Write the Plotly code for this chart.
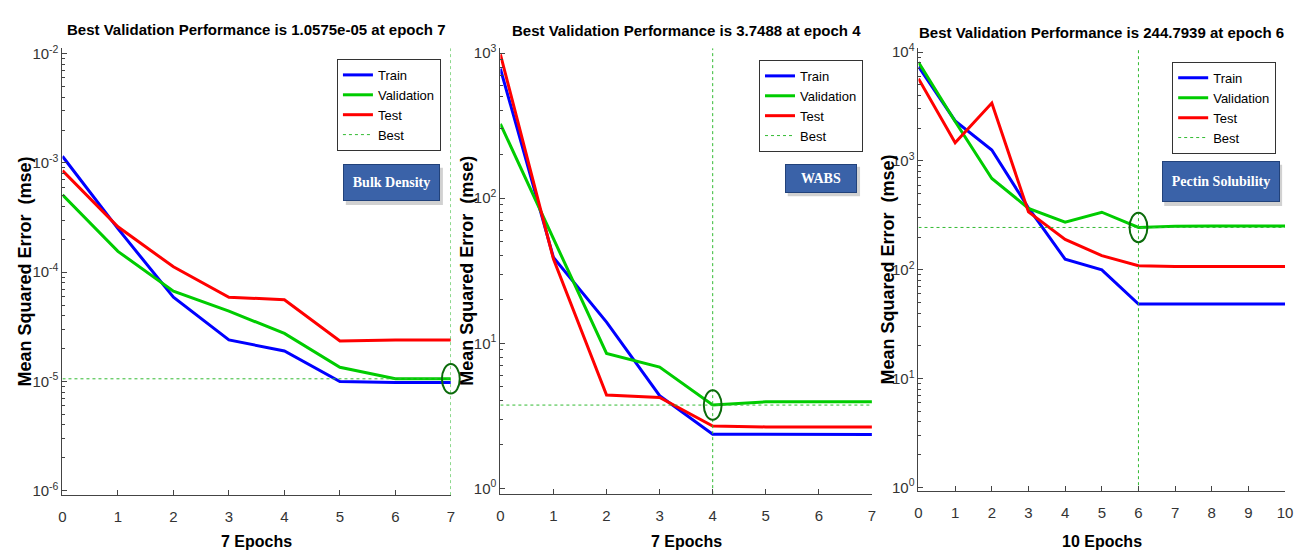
import math
import plotly.graph_objects as go

# ---------------- data ----------------
epochs1 = [0, 1, 2, 3, 4, 5, 6, 7]
train1 = [1.15e-3, 2.5e-4, 5.9e-5, 2.4e-5, 1.9e-5, 1.0e-5, 9.8e-6, 9.8e-6]
val1 = [5.1e-4, 1.55e-4, 6.7e-5, 4.4e-5, 2.75e-5, 1.35e-5, 1.06e-5, 1.0575e-5]
test1 = [8.5e-4, 2.6e-4, 1.12e-4, 5.9e-5, 5.6e-5, 2.35e-5, 2.4e-5, 2.4e-5]
best_epoch1, best_val1 = 7, 1.0575e-5

epochs2 = [0, 1, 2, 3, 4, 5, 6, 7]
train2 = [780, 39, 14, 4.35, 2.36, 2.35, 2.35, 2.35]
val2 = [325, 53, 8.5, 6.85, 3.7488, 3.95, 3.95, 3.95]
test2 = [980, 38, 4.4, 4.23, 2.69, 2.65, 2.65, 2.65]
best_epoch2, best_val2 = 4, 3.7488

epochs3 = [0, 1, 2, 3, 4, 5, 6, 7, 8, 9, 10]
train3 = [7360, 2330, 1260, 370, 125, 100, 48.5, 48.5, 48.5, 48.5, 48.5]
val3 = [8070, 2300, 690, 367, 274, 338, 244.7939, 251, 252, 252, 252]
test3 = [5700, 1470, 3400, 340, 190, 135, 109, 107, 107, 107, 107]
best_epoch3, best_val3 = 6, 244.7939

titles = ["Best Validation Performance is 1.0575e-05 at epoch 7",
          "Best Validation Performance is 3.7488 at epoch 4",
          "Best Validation Performance is 244.7939 at epoch 6"]
xlabels = ["7 Epochs", "7 Epochs", "10 Epochs"]
box_labels = ["Bulk Density", "WABS", "Pectin Solubility"]
ylabel = "Mean Squared Error  (mse)"
series_names = ["Train", "Validation", "Test", "Best"]

# ---------------- style ----------------
W, H = 1303, 554
SANS = "Liberation Sans, Arial, sans-serif"
SERIF = "Liberation Serif, Times New Roman, serif"
C_TRAIN, C_VAL, C_TEST, C_BEST = "#0000FF", "#00CC00", "#FF0000", "#33BB33"

panels = [
    dict(ep=epochs1, tr=train1, va=val1, te=test1, be=best_epoch1, bv=best_val1,
         xdom=(59, 451), ydom=(42, 498), yr=(-6.04, -1.95), dec=(-6, -2), xmax=7,
         ylab_x=21, legend=(441, 53), box=(343, 161, 440, 198), title_y=23),
    dict(ep=epochs2, tr=train2, va=val2, te=test2, be=best_epoch2, bv=best_val2,
         xdom=(501, 876), ydom=(42, 497), yr=(-0.04, 3.034), dec=(0, 3), xmax=7,
         ylab_x=467, legend=(867, 54), box=(789, 160, 861, 189), title_y=24),
    dict(ep=epochs3, tr=train3, va=val3, te=test3, be=best_epoch3, bv=best_val3,
         xdom=(923, 1293), ydom=(42, 494), yr=(-0.034, 4.036), dec=(0, 4), xmax=10,
         ylab_x=892, legend=(1284, 56), box=(1169, 158, 1287, 199), title_y=26),
]


def px2x(p):
    return p / W


def px2y(p):
    return 1 - p / H


def sup_label(e):
    return "10<sup>%d</sup>" % e


fig = go.Figure()
annotations = []
shapes = []
layout = {}

for i, p in enumerate(panels):
    n = "" if i == 0 else str(i + 1)
    xa, ya = "x" + n, "y" + n
    lg = "legend" + n
    ymin, ymax = 10 ** p["yr"][0], 10 ** p["yr"][1]
    xd = (px2x(p["xdom"][0]), px2x(p["xdom"][1]))
    yd = (px2y(p["ydom"][1]), px2y(p["ydom"][0]))

    for name, vals, col in [(series_names[0], p["tr"], C_TRAIN),
                            (series_names[1], p["va"], C_VAL),
                            (series_names[2], p["te"], C_TEST)]:
        fig.add_trace(go.Scatter(x=p["ep"], y=vals, mode="lines", name=name,
                                 line=dict(color=col, width=3),
                                 xaxis=xa, yaxis=ya, legend=lg))
    fig.add_trace(go.Scatter(
        x=[p["ep"][0], p["xmax"], None, p["be"], p["be"]],
        y=[p["bv"], p["bv"], None, ymin, ymax],
        mode="lines", name=series_names[3],
        line=dict(color=C_BEST, width=1, dash="dot"),
        xaxis=xa, yaxis=ya, legend=lg))

    # best-point ellipse, placed from the best (epoch, value) pair via the axis mapping
    cx = xd[0] + (p["be"] - 0) / (p["xmax"] - 0) * (xd[1] - xd[0])
    cy = yd[0] + (math.log10(p["bv"]) - p["yr"][0]) / (p["yr"][1] - p["yr"][0]) * (yd[1] - yd[0])
    shapes.append(dict(type="circle", xref="paper", yref="paper",
                       x0=cx - 9 / W, x1=cx + 9 / W, y0=cy - 15 / H, y1=cy + 15 / H,
                       line=dict(color="#0B6B0B", width=2), layer="above"))

    d0, d1 = p["dec"]
    major = [10.0 ** e for e in range(d0, d1 + 1)]
    minor = [k * 10.0 ** e for e in range(d0, d1) for k in range(2, 10)]

    layout["xaxis" + n] = dict(
        domain=list(xd), anchor=ya,
        range=[0, p["xmax"]], tickmode="array", tickvals=p["ep"],
        ticks="inside", ticklen=5, tickcolor="#444", showline=True,
        linecolor="#444", linewidth=1, showgrid=False, zeroline=False,
        ticklabelstandoff=8,
        tickfont=dict(family=SANS, size=15, color="#333"))
    layout["yaxis" + n] = dict(
        domain=list(yd), anchor=xa,
        type="log", range=list(p["yr"]), tickmode="array", tickvals=major,
        ticktext=[sup_label(e) for e in range(d0, d1 + 1)],
        ticks="inside", ticklen=5, tickcolor="#444", showline=True,
        linecolor="#444", linewidth=1, showgrid=False, zeroline=False,
        minor=dict(tickmode="array", tickvals=minor, ticks="inside",
                   ticklen=3, tickcolor="#444"),
        tickfont=dict(family=SANS, size=15, color="#333"))

    layout[lg] = dict(
        x=px2x(p["legend"][0]), y=px2y(p["legend"][1]),
        xanchor="right", yanchor="top", xref="paper", yref="paper",
        bgcolor="white", bordercolor="#333", borderwidth=1,
        font=dict(family=SANS, size=13, color="black"),
        itemwidth=30, tracegroupgap=0)

    xc = (p["xdom"][0] + p["xdom"][1]) / 2
    annotations.append(dict(text="<b>%s</b>" % titles[i], xref="paper", yref="paper",
                            x=px2x(xc), y=px2y(p["title_y"]), showarrow=False,
                            xanchor="center", yanchor="middle",
                            font=dict(family=SANS, size=15, color="black")))
    annotations.append(dict(text="<b>%s</b>" % xlabels[i], xref="paper", yref="paper",
                            x=px2x(xc), y=px2y(545), showarrow=False,
                            xanchor="center", yanchor="middle",
                            font=dict(family=SANS, size=16, color="black")))
    yc = (p["ydom"][0] + p["ydom"][1]) / 2
    annotations.append(dict(text="<b>%s</b>" % ylabel, xref="paper", yref="paper",
                            x=px2x(p["ylab_x"]), y=px2y(yc), showarrow=False,
                            textangle=-90, xanchor="center", yanchor="middle",
                            font=dict(family=SANS, size=18, color="black")))
    bx0, by0, bx1, by1 = p["box"]
    # drop shadow behind the label box
    shapes.append(dict(type="rect", xref="paper", yref="paper",
                       x0=px2x(bx0 + 2), x1=px2x(bx1 + 3),
                       y0=px2y(by1 + 4), y1=px2y(by0 + 3),
                       fillcolor="rgba(0,0,0,0.18)", line=dict(width=0),
                       layer="above"))
    annotations.append(dict(text="<b>%s</b>" % box_labels[i], xref="paper", yref="paper",
                            x=px2x((bx0 + bx1) / 2), y=px2y((by0 + by1) / 2),
                            showarrow=False, xanchor="center", yanchor="middle",
                            width=bx1 - bx0 - 6, height=by1 - by0 - 6,
                            bgcolor="#3A62A8", bordercolor="#22427A", borderwidth=1,
                            borderpad=2,
                            font=dict(family=SERIF, size=14, color="white")))

fig.update_layout(width=W, height=H, margin=dict(l=0, r=0, t=0, b=0),
                  paper_bgcolor="white", plot_bgcolor="white",
                  showlegend=True, annotations=annotations, shapes=shapes,
                  **layout)

fig.write_html("out.html")
